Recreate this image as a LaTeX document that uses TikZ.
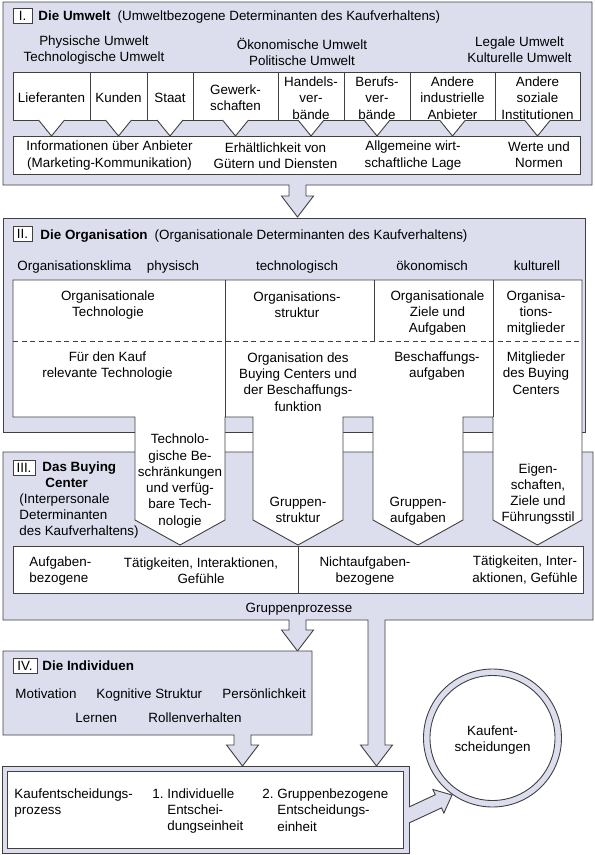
\documentclass[tikz,border=0pt]{standalone}
\usepackage{fontspec}
\setmainfont{Liberation Sans}
\definecolor{lav}{RGB}{220,222,238}
\definecolor{edge}{RGB}{64,64,64}
\begin{document}
\begin{tikzpicture}[x=1pt,y=-1pt, line width=0.9pt, line join=miter,
  shade/.style={fill=lav, draw=edge},
  wbox/.style={fill=white, draw=edge},
  ln/.style={draw=edge},
  txt/.style={font=\fontsize{13.4}{16.3}\selectfont, inner sep=0pt, align=center, text=black},
  ltxt/.style={txt, align=left},
  num/.style={draw=edge, fill=white, line width=0.8pt, minimum width=19pt, minimum height=15pt, inner sep=0pt, font=\fontsize{13.4}{16.3}\selectfont},
]
\useasboundingbox (0,0) rectangle (595,855);

% ---------- Box I ----------
\draw[shade] (3,2) -- (592,2) -- (592,185) -- (306,185) -- (306,196) -- (313.5,196) -- (297.5,217) -- (281.5,196) -- (289,196) -- (289,185) -- (3,185) -- cycle;
\draw[wbox] (13,72) rectangle (580,120);
\foreach \x in {90,147,193,278,344,410,495} \draw[ln] (\x,72) -- (\x,120);
\draw[wbox] (13,136) rectangle (580,174);
\foreach \c in {51.5,118.5,170,235.5,311,377,452.5,537.5} {
  \fill[white] (\c-13,119) -- (\c+13,119) -- (\c+13,120) -- (\c,136) -- (\c-13,120) -- cycle;
  \draw[ln] (\c-13,120) -- (\c,136) -- (\c+13,120);
}

% ---------- Box II and III ----------
\draw[shade] (3,218) rectangle (585,432);
\draw[shade] (3,452) -- (593,452) -- (593,620) -- (385,620) -- (385,745) -- (392.5,745) -- (376.5,766) -- (360.5,745) -- (368,745) -- (368,620) -- (306,620) -- (306,630) -- (313.5,630) -- (297.5,651) -- (281.5,630) -- (289,630) -- (289,620) -- (3,620) -- cycle;
\draw[wbox] (13,280) -- (582,280) -- (582,520) -- (537.5,545) -- (493,520) -- (493,417) -- (463,417) -- (463,520) -- (418,545) -- (373,520) -- (373,417) -- (343,417) -- (343,520) -- (298,545) -- (253,520) -- (253,417) -- (225,417) -- (225,520) -- (180,545) -- (135,520) -- (135,417) -- (13,417) -- cycle;
\draw[ln] (225,280) -- (225,417);
\draw[ln] (493,280) -- (493,417);
\draw[ln] (374,280) -- (374,341);
\draw[ln, dash pattern=on 5pt off 3.5pt] (13,341) -- (582,341);
\draw[wbox] (13,546) rectangle (583,593);
\draw[ln] (298,546) -- (298,593);

% ---------- Box IV ----------
\draw[shade] (3,651) -- (312,651) -- (312,735) -- (251,735) -- (251,745) -- (258.5,745) -- (242.5,766) -- (226.5,745) -- (234,745) -- (234,735) -- (3,735) -- cycle;

% ---------- Bottom box ----------
\draw[shade] (2,766) rectangle (409,853);
\draw[wbox] (7,771) rectangle (403,848);

% ---------- Circle and arrow ----------
\draw[shade] (492.5,738) circle[radius=69pt];
\draw[wbox] (492.5,738) circle[radius=62.5pt];
\fill[lav] (405,808.9) -- (435.3,794.7) -- (432.9,789.5) -- (452,795) -- (443.9,813.1) -- (441.5,807.9) -- (405,824.9) -- cycle;
\draw[ln] (409,807) -- (435.3,794.7) -- (432.9,789.5) -- (452,795) -- (443.9,813.1) -- (441.5,807.9) -- (409,823);

% ---------- Texts Box I ----------
\node[num] (n1) at (22.5,15.5) {I.};
\node[txt, anchor=base west] (t1) at (38,20) {\textbf{Die Umwelt}\hspace{7pt}(Umweltbezogene Determinanten des Kaufverhaltens)};
\node[txt] (e1) at (94,50) {Physische Umwelt\\Technologische Umwelt};
\node[txt] (e2) at (302,52) {Ökonomische Umwelt\\Politische Umwelt};
\node[txt] (e3) at (519.5,50) {Legale Umwelt\\Kulturelle Umwelt};
\node[txt] (a1) at (51.5,98) {Lieferanten};
\node[txt] (a2) at (118.5,98) {Kunden};
\node[txt] (a3) at (170,98) {Staat};
\node[txt] (a4) at (235.5,98) {Gewerk-\\schaften};
\node[txt] (a5) at (311,98) {Handels-\\ver-\\bände};
\node[txt] (a6) at (377,98) {Berufs-\\ver-\\bände};
\node[txt] (a7) at (452.5,98) {Andere\\industrielle\\Anbieter};
\node[txt] (a8) at (537.5,98) {Andere\\soziale\\Institutionen};
\node[txt] (b1) at (109.5,155.5) {Informationen über Anbieter\\(Marketing-Kommunikation)};
\node[txt] (b2) at (275.5,155.5) {Erhältlichkeit von\\Gütern und Diensten};
\node[txt] (b3) at (413,155.5) {Allgemeine wirt-\\schaftliche Lage};
\node[txt] (b4) at (539,155) {Werte und\\Normen};

% ---------- Texts Box II ----------
\node[num] (n2) at (22.5,234) {II.};
\node[txt, anchor=base west] (t2) at (40,239) {\textbf{Die Organisation}\hspace{7pt}(Organisationale Determinanten des Kaufverhaltens)};
\node[txt, anchor=base west] (r1) at (17,270) {Organisationsklima};
\node[txt, anchor=base] (r2) at (173,270) {physisch};
\node[txt, anchor=base] (r3) at (297,270) {technologisch};
\node[txt, anchor=base] (r4) at (432,270) {ökonomisch};
\node[txt, anchor=base] (r5) at (537,270) {kulturell};
\node[txt] (c1) at (108,305) {Organisationale\\Technologie};
\node[txt] (c2) at (297,304.5) {Organisations-\\struktur};
\node[txt] (c3) at (437.5,313) {Organisationale\\Ziele und\\Aufgaben};
\node[txt] (c4) at (536,313) {Organisa-\\tions-\\mitglieder};
\node[txt] (d1) at (107.5,366) {Für den Kauf\\relevante Technologie};
\node[txt] (d2) at (298,382) {Organisation des\\Buying Centers und\\der Beschaffungs-\\funktion};
\node[txt] (d3) at (437,366) {Beschaffungs-\\aufgaben};
\node[txt] (d4) at (536,373) {Mitglieder\\des Buying\\Centers};

% ---------- Texts Box III ----------
\node[num, minimum width=22pt] (n3) at (24,467.5) {III.};
\node[txt, anchor=base west] (t3a) at (42,471.5) {\textbf{Das Buying}};
\node[txt, anchor=base west] (t3b) at (45,487.5) {\textbf{Center}};
\node[ltxt, anchor=west] (t3c) at (19,516) {(Interpersonale\\Determinanten\\des Kaufverhaltens)};
\node[txt] (f1) at (180,481) {Technolo-\\gische Be-\\schränkungen\\und verfüg-\\bare Tech-\\nologie};
\node[txt] (f2) at (298,510) {Gruppen-\\struktur};
\node[txt] (f3) at (418,511) {Gruppen-\\aufgaben};
\node[txt] (f4) at (538,494) {Eigen-\\schaften,\\Ziele und\\Führungsstil};
\node[ltxt, anchor=west] (g1) at (29,571) {Aufgaben-\\bezogene};
\node[txt] (g2) at (201,570.5) {Tätigkeiten, Interaktionen,\\Gefühle};
\node[txt] (g3) at (365,571) {Nichtaufgaben-\\bezogene};
\node[txt] (g4) at (525,570) {Tätigkeiten, Inter-\\aktionen, Gefühle};
\node[txt, anchor=base] (gp) at (299,612) {Gruppenprozesse};

% ---------- Texts Box IV ----------
\node[num, minimum width=24pt] (n4) at (25,665.5) {IV.};
\node[txt, anchor=base west] (t4) at (42,670) {\textbf{Die Individuen}};
\node[txt, anchor=base west] (h1) at (15,698) {Motivation};
\node[txt, anchor=base west] (h2) at (96,698) {Kognitive Struktur};
\node[txt, anchor=base west] (h3) at (222,698) {Persönlichkeit};
\node[txt, anchor=base west] (h4) at (75,722) {Lernen};
\node[txt, anchor=base west] (h5) at (148,722) {Rollenverhalten};

% ---------- Texts bottom ----------
\node[ltxt, anchor=west] (k1) at (14,803) {Kaufentscheidungs-\\prozess};
\node[ltxt, anchor=west] (k2) at (152,811) {1.~Individuelle\\\phantom{1.~}Entschei-\\\phantom{1.~}dungseinheit};
\node[ltxt, anchor=west] (k3) at (262,810) {2.~Gruppenbezogene\\\phantom{2.~}Entscheidungs-\\\phantom{2.~}einheit};
\node[txt] (kz) at (492.5,740) {Kaufent-\\scheidungen};
\end{tikzpicture}
\end{document}
